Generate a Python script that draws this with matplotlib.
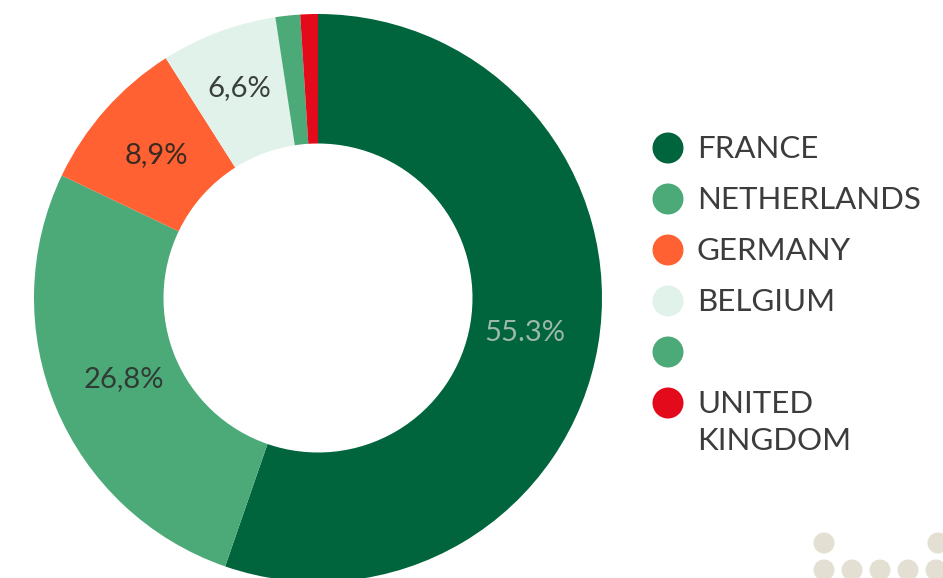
import matplotlib.pyplot as plt
import numpy as np

# data (clockwise from 12 o'clock)
countries = ["FRANCE", "NETHERLANDS", "GERMANY", "BELGIUM", "", "UNITED\nKINGDOM"]
shares = [55.3, 26.8, 8.9, 6.6, 1.4, 1.0]
value_labels = ["55.3%", "26,8%", "8,9%", "6,6%", "", ""]
colors = ["#00643c", "#4caa78", "#ff6133", "#e1f2eb", "#4caa78", "#e30a1b"]
label_colors = ["#9db8aa", "#2f3b34", "#3a2a22", "#3a3f3c", "", ""]

# decorative dots in the lower right corner (figure pixels)
deco_x = [824, 938, 824, 852, 880, 908, 936]
deco_y = [543, 543, 570, 570, 570, 570, 570]

plt.rcParams["font.family"] = ["Lato", "DejaVu Sans"]

W, H = 943, 578
fig = plt.figure(figsize=(W / 100, H / 100), dpi=100)

# overlay in pixel units for legend + decoration
ov = fig.add_axes([0, 0, 1, 1])
ov.set_xlim(0, W)
ov.set_ylim(H, 0)
ov.axis("off")

# donut: centre (318, 298) px, outer radius 284 px
cx, cy, r = 318, 298, 284
ax = fig.add_axes([(cx - r) / W, (H - cy - r) / H, 2 * r / W, 2 * r / H])
wedges, _ = ax.pie(
    shares,
    colors=colors,
    startangle=90,
    counterclock=False,
    radius=1,
    wedgeprops=dict(width=0.456, linewidth=0),
)
ax.set_xlim(-1, 1)
ax.set_ylim(-1, 1)
ax.set_aspect("equal")
ax.axis("off")

label_radius = [0.74, 0.74, 0.76, 0.79, 0, 0]
for w, txt, col, lr in zip(wedges, value_labels, label_colors, label_radius):
    if not txt:
        continue
    mid = np.deg2rad((w.theta1 + w.theta2) / 2)
    ax.text(lr * np.cos(mid), lr * np.sin(mid), txt, ha="center", va="center",
            fontsize=21, color=col)

# legend drawn by hand
leg_y0, leg_step = 148, 51
for i, (name, col) in enumerate(zip(countries, colors)):
    y = leg_y0 + i * leg_step
    ov.add_patch(plt.Circle((668, y), 15.5, color=col, linewidth=0))
    ov.text(697, y - 13, name, ha="left", va="top",
            fontsize=22.5, color="#3c3c3c", linespacing=1.4)

# background dots
for x, y in zip(deco_x, deco_y):
    ov.add_patch(plt.Circle((x, y), 10.5, color="#e3e0d3", linewidth=0))

fig.savefig("out.png", dpi=100)
